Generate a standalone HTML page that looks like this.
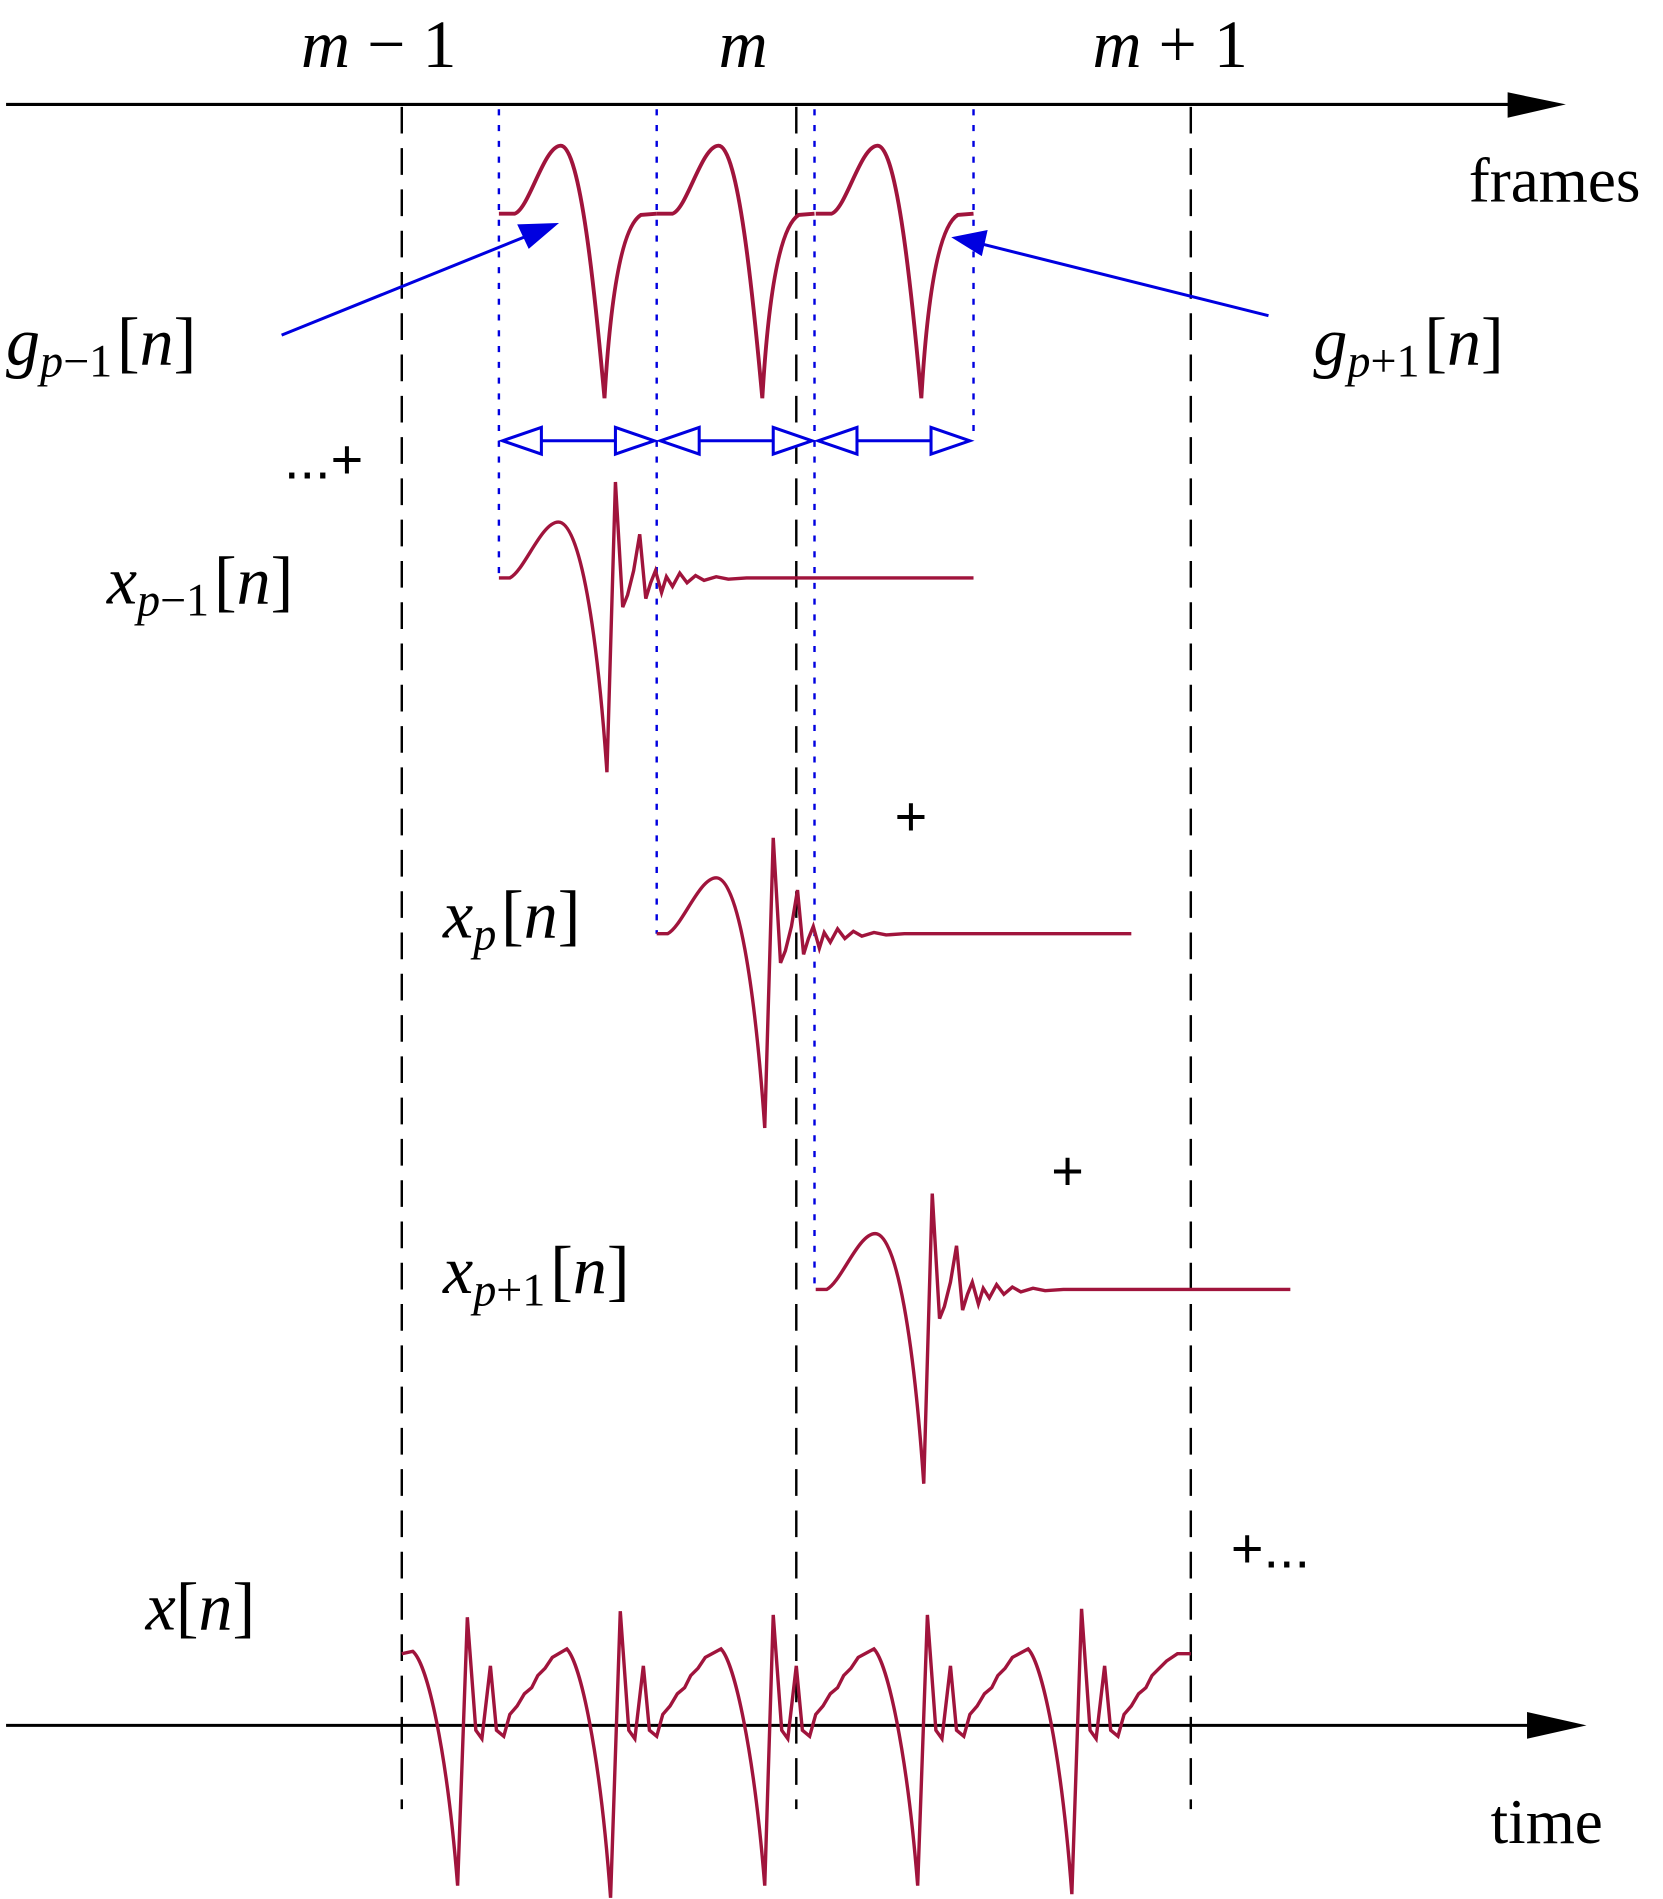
<!DOCTYPE html>
<html><head><meta charset="utf-8"><style>html,body{margin:0;padding:0;background:#fff}svg{display:block}</style></head>
<body>
<svg width="1663" height="1899" viewBox="0 0 1370 1564" preserveAspectRatio="none" xmlns="http://www.w3.org/2000/svg" font-family="Liberation Serif, serif">
<defs>
<path id="g" d="M411,176 L424,176 C436,172 448,120 462,120 C478,120 490,240 498,328 C502,260 510,188 528,177 L541,176" fill="none" stroke="#a0143c" stroke-width="3.2"/>
<path id="x" d="M411,476 L420,476 C432,470 446,430 460,430 C478,430 492,520 500,636 L507,397 L513,500 L517,490 L522,470 L527,440 L532,493 L536,480 L540,470 L545,488 L549,475 L554,483 L560,472 L566,480 L573,474 L580,478 L590,475 L600,477 L615,476 L802,476" fill="none" stroke="#a0143c" stroke-width="2.8"/>
</defs>
<g stroke="#000" stroke-width="2" stroke-dasharray="22,12">
<line x1="331" y1="88" x2="331" y2="1490"/><line x1="656" y1="88" x2="656" y2="1490"/><line x1="981" y1="88" x2="981" y2="1490"/>
</g>
<g stroke="#0000e0" stroke-width="2" stroke-dasharray="5,8">
<line x1="411" y1="90" x2="411" y2="476"/><line x1="541" y1="90" x2="541" y2="769"/><line x1="671" y1="90" x2="671" y2="1062"/><line x1="802" y1="90" x2="802" y2="362"/>
</g>
<line x1="5" y1="86" x2="1250" y2="86" stroke="#000" stroke-width="2.5"/>
<polygon points="1242,76 1290,86 1242,97" fill="#000"/>
<line x1="5" y1="1421" x2="1265" y2="1421" stroke="#000" stroke-width="2.5"/>
<polygon points="1258,1410 1307,1421 1258,1432" fill="#000"/>
<use href="#g"/><use href="#g" transform="translate(130,0)"/><use href="#g" transform="translate(261,0)"/>
<use href="#x"/><use href="#x" transform="translate(130,293)"/>
<use href="#x" transform="translate(261,586)"/>
<path d="M331,1362 L340,1360 C352,1370 368,1440 377,1553 L385,1332 L392,1425 L397,1432 L404,1372 L409,1425 L415,1430 L420,1412 L426,1405 L432,1395 L438,1390 L443,1380 L449,1374 L455,1365 L467,1358 C478,1370 494,1440 503,1563 L511,1327 L518,1425 L523,1432 L530,1372 L535,1425 L541,1430 L546,1412 L552,1405 L558,1395 L564,1390 L569,1380 L575,1374 L581,1365 L594,1358 C605,1370 621,1440 630,1553 L637,1330 L644,1425 L649,1432 L656,1372 L661,1425 L667,1430 L672,1412 L678,1405 L684,1395 L690,1390 L695,1380 L701,1374 L707,1365 L720,1358 C731,1370 747,1440 756,1553 L764,1330 L771,1425 L776,1432 L783,1372 L788,1425 L794,1430 L799,1412 L805,1405 L811,1395 L817,1390 L822,1380 L828,1374 L834,1365 L847,1358 C858,1370 874,1440 883,1560 L891,1325 L898,1425 L903,1432 L910,1372 L915,1425 L921,1430 L926,1412 L932,1405 L938,1395 L944,1390 L949,1380 L955,1374 L961,1368 L970,1362 L981,1362" fill="none" stroke="#a0143c" stroke-width="2.8"/>
<g stroke="#0000e0" stroke-width="2.5" fill="#0000e0">
<line x1="232" y1="276" x2="440" y2="192"/><polygon points="457,185 428,186 436,203"/>
<line x1="1045" y1="260" x2="805" y2="200"/><polygon points="787,196 812,191 808,209"/>
</g>
<g stroke="#0000e0" stroke-width="2.5" fill="#fff">
<line x1="416" y1="363" x2="536" y2="363"/><line x1="546" y1="363" x2="666" y2="363"/><line x1="676" y1="363" x2="797" y2="363"/>
<polygon points="414,363 446,352 446,374"/><polygon points="539,363 507,352 507,374"/>
<polygon points="544,363 576,352 576,374"/><polygon points="669,363 637,352 637,374"/>
<polygon points="674,363 706,352 706,374"/><polygon points="799,363 767,352 767,374"/>
</g>
<g font-size="56" fill="#000">
<text x="248" y="55" font-style="italic">m<tspan font-style="normal" dx="14">−</tspan><tspan font-style="normal" dx="14">1</tspan></text>
<text x="592" y="55" font-style="italic">m</text>
<text x="900" y="55" font-style="italic">m<tspan font-style="normal" dx="14">+</tspan><tspan font-style="normal" dx="14">1</tspan></text>
<text x="1210" y="166" font-size="52">frames</text>
<text x="1228" y="1518" font-size="52">time</text>
<text x="5" y="300" font-style="italic">g<tspan font-size="38" dy="10">p</tspan><tspan font-size="38" font-style="normal">−1</tspan><tspan font-style="normal" dy="-10" dx="4">[</tspan>n<tspan font-style="normal">]</tspan></text>
<text x="1082" y="300" font-style="italic">g<tspan font-size="38" dy="10">p</tspan><tspan font-size="38" font-style="normal">+1</tspan><tspan font-style="normal" dy="-10" dx="4">[</tspan>n<tspan font-style="normal">]</tspan></text>
<text x="88" y="497" font-style="italic">x<tspan font-size="38" dy="10">p</tspan><tspan font-size="38" font-style="normal">−1</tspan><tspan font-style="normal" dy="-10" dx="4">[</tspan>n<tspan font-style="normal">]</tspan></text>
<text x="365" y="772" font-style="italic">x<tspan font-size="38" dy="10">p</tspan><tspan font-style="normal" dy="-10" dx="4">[</tspan>n<tspan font-style="normal">]</tspan></text>
<text x="365" y="1065" font-style="italic">x<tspan font-size="38" dy="10">p</tspan><tspan font-size="38" font-style="normal">+1</tspan><tspan font-style="normal" dy="-10" dx="4">[</tspan>n<tspan font-style="normal">]</tspan></text>
<text x="120" y="1342" font-style="italic">x<tspan font-style="normal">[</tspan>n<tspan font-style="normal">]</tspan></text>
</g>
<g font-family="Liberation Sans, sans-serif" font-size="46" fill="#000">
<text x="234" y="394">...+</text>
<text x="737" y="688">+</text>
<text x="866" y="980">+</text>
<text x="1014" y="1291">+...</text>
</g>
</svg>
</body></html>
